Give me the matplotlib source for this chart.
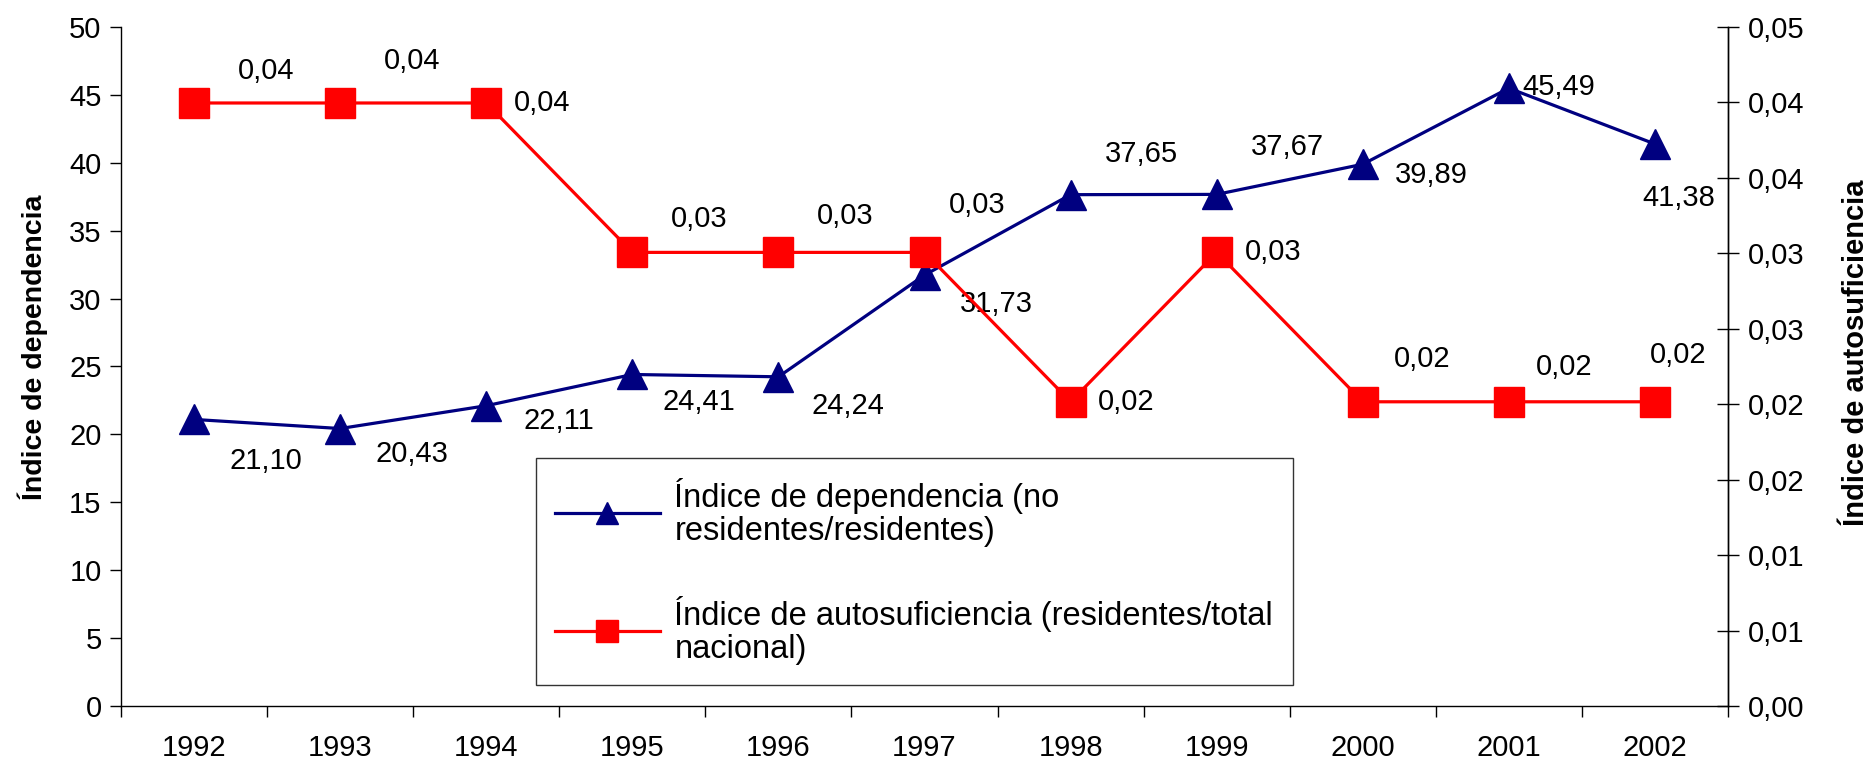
import numpy as np
import matplotlib.pyplot as plt
from matplotlib.ticker import FixedLocator, FuncFormatter

years = ['1992', '1993', '1994', '1995', '1996', '1997', '1998', '1999', '2000', '2001', '2002']
dependencia = [21.10, 20.43, 22.11, 24.41, 24.24, 31.73, 37.65, 37.67, 39.89, 45.49, 41.38]
autosuficiencia = [0.0444, 0.0444, 0.0444, 0.0334, 0.0334, 0.0334, 0.0224, 0.0334, 0.0224, 0.0224, 0.0224]

# label offsets (points) for each data label
dep_off = [(52, -30), (52, -18), (52, -11), (48, -20), (50, -21), (52, -21),
           (51, 29), (51, 34), (49, -8), (36, 1), (17, -39)]
aut_off = [(52, 23), (52, 30), (40, 0), (48, 24), (48, 26), (38, 34),
           (40, 0), (41, 0), (43, 31), (40, 25), (17, 34)]

plt.rcParams['font.family'] = ['Liberation Sans', 'DejaVu Sans']

blue = '#000080'
red = '#FF0000'

fig = plt.figure(figsize=(18.74, 7.63), dpi=100)
ax = fig.add_axes([0.0646, 0.0747, 0.8575, 0.890])
ax2 = ax.twinx()

x = np.arange(len(years))
l1, = ax.plot(x, dependencia, color=blue, lw=2.3, marker='^', markersize=21.5,
              label='Índice de dependencia (no\nresidentes/residentes)')
l2, = ax2.plot(x, autosuficiencia, color=red, lw=2.3, marker='s', markersize=22,
               label='Índice de autosuficiencia (residentes/total\nnacional)')

for xi, v, off in zip(x, dependencia, dep_off):
    ax.annotate(f'{v:.2f}'.replace('.', ','), (xi, v), xytext=off, textcoords='offset points',
                ha='center', va='center', fontsize=21)
for xi, v, off in zip(x, autosuficiencia, aut_off):
    ax2.annotate(f'{v:.2f}'.replace('.', ','), (xi, v), xytext=off, textcoords='offset points',
                 ha='center', va='center', fontsize=21)

ax.set_xlim(-0.5, len(years) - 0.5)
ax.set_ylim(0, 50)
ax2.set_ylim(0, 0.05)
ax.set_yticks(np.arange(0, 51, 5))
ax2.set_yticks(np.linspace(0, 0.05, 10))
ax2.yaxis.set_major_formatter(FuncFormatter(lambda v, p: f'{v:.2f}'.replace('.', ',')))

ax.set_xticks(x)
ax.set_xticklabels(years)
ax.xaxis.set_minor_locator(FixedLocator(np.arange(-0.5, len(years), 1)))
ax.tick_params(axis='x', which='major', length=0, pad=20, labelsize=21)
ax.tick_params(axis='x', which='minor', length=8, width=1)
ax.tick_params(axis='y', length=8, width=1, pad=6, labelsize=21)
ax2.tick_params(axis='y', direction='inout', length=16, width=1, pad=6, labelsize=21)

for a in (ax, ax2):
    a.spines['top'].set_visible(False)
    for s in a.spines.values():
        s.set_linewidth(1)
ax2.spines['left'].set_visible(False)
ax2.spines['bottom'].set_visible(False)

fig.text(0.0176, 0.545, 'Índice de dependencia', rotation=90, ha='center', va='center',
         fontsize=20.5, fontweight='bold')
fig.text(0.9905, 0.538, 'Índice de autosuficiencia', rotation=90, ha='center', va='center',
         fontsize=21, fontweight='bold')

leg = ax2.legend(handles=[l1, l2], loc='upper left', bbox_to_anchor=(0.258, 0.365),
                 borderaxespad=0, prop={'size': 23.5}, frameon=True, fancybox=False,
                 edgecolor='black', handlelength=3.2, handletextpad=0.45,
                 labelspacing=1.5, borderpad=0.6, markerscale=0.74)
leg.get_frame().set_linewidth(1)
for t in leg.get_texts():
    t.set_linespacing(1.1)

fig.savefig('out.png', dpi=100)
